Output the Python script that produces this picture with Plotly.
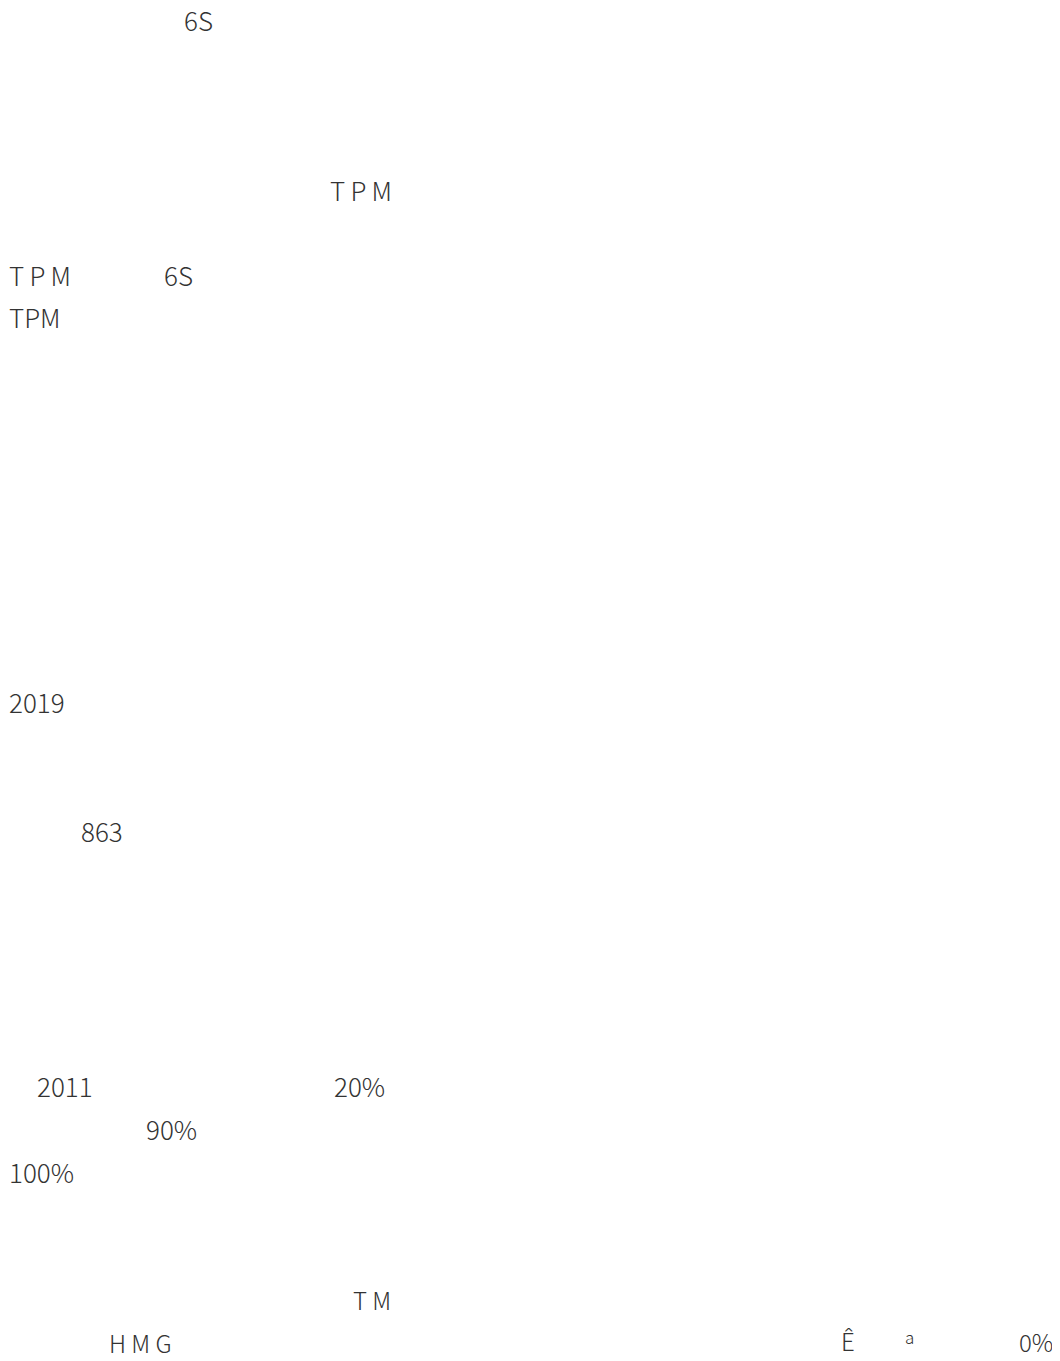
import plotly.graph_objects as go

# Text fragments that appear on the page (left edge x, cap-centre y, in page pixels)
TS = "\u2009"  # thin space for the letter-spaced fragments
labels = ["6S", TS.join("TPM"), TS.join("TPM"), "6S", "TPM", "2019", "863",
          "2011", "20%", "90%", "100%"]
label_x = [183, 329, 8, 163, 8, 8, 80, 36, 333, 145, 8]
label_y = [19, 189, 274, 274, 316, 701, 830, 1085, 1085, 1128, 1171]

narrow_labels = ["T M", "H M G", "Ê", "0%"]
narrow_x = [352, 108, 840, 1018]
narrow_y = [1299, 1342, 1340, 1341]

small_labels = ["a"]
small_x = [904]
small_y = [1336]

PAGE_W, PAGE_H = 1060, 1361
BODY = 8  # default page margin in front of the plot
W, H = PAGE_W - BODY, PAGE_H - BODY

fig = go.Figure()
fig.add_trace(go.Scatter(x=[BODY, PAGE_W], y=[BODY, PAGE_H], mode="markers",
                         marker=dict(opacity=0), hoverinfo="skip", showlegend=False))

main_font = dict(family="Noto Sans CJK SC", size=26, color="#333333", weight=300)
narrow_font = dict(family="Noto Sans CJK SC", size=24, color="#333333", weight=300)
small_font = dict(family="Noto Sans CJK SC", size=17, color="#333333", weight=300)

ann = []
for group, font in ((zip(labels, label_x, label_y), main_font),
                    (zip(narrow_labels, narrow_x, narrow_y), narrow_font),
                    (zip(small_labels, small_x, small_y), small_font)):
    for t, x, y in group:
        ann.append(dict(x=x, y=y, text=t, xref="x", yref="y", xanchor="left", yanchor="middle",
                        showarrow=False, borderpad=0, font=font))

fig.update_layout(
    width=W, height=H, margin=dict(l=0, r=0, t=0, b=0),
    paper_bgcolor="white", plot_bgcolor="white",
    xaxis=dict(range=[BODY, PAGE_W], visible=False, fixedrange=True),
    yaxis=dict(range=[PAGE_H, BODY], visible=False, fixedrange=True),
    annotations=ann,
)
fig.write_html("out.html")
